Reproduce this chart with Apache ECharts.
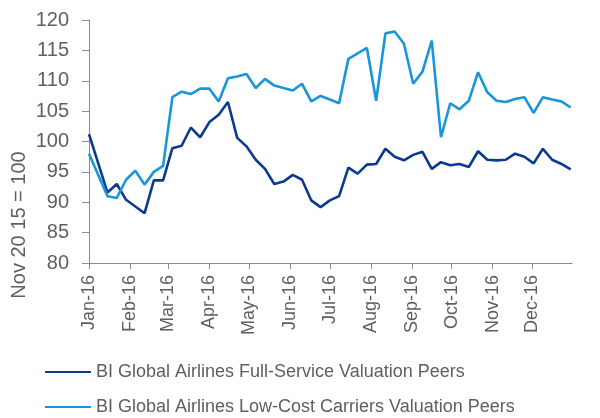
<!DOCTYPE html>
<html>
<head>
<meta charset="utf-8">
<script src="https://cdn.jsdelivr.net/npm/echarts@6/dist/echarts.min.js"></script>
<style>
  html, body { margin: 0; padding: 0; background: #fff; }
  #chart { width: 600px; height: 418px; }
</style>
</head>
<body>
<div id="chart"></div>
<script>
// weekly observations, 2016
var weeks = [
  '2016-01-01', '2016-01-08', '2016-01-15', '2016-01-22', '2016-01-29',
  '2016-02-05', '2016-02-12', '2016-02-19', '2016-02-26',
  '2016-03-04', '2016-03-11', '2016-03-18', '2016-03-25',
  '2016-04-01', '2016-04-08', '2016-04-15', '2016-04-22', '2016-04-29',
  '2016-05-06', '2016-05-13', '2016-05-20', '2016-05-27',
  '2016-06-03', '2016-06-10', '2016-06-17', '2016-06-24',
  '2016-07-01', '2016-07-08', '2016-07-15', '2016-07-22', '2016-07-29',
  '2016-08-05', '2016-08-12', '2016-08-19', '2016-08-26',
  '2016-09-02', '2016-09-09', '2016-09-16', '2016-09-23', '2016-09-30',
  '2016-10-07', '2016-10-14', '2016-10-21', '2016-10-28',
  '2016-11-04', '2016-11-11', '2016-11-18', '2016-11-25',
  '2016-12-02', '2016-12-09', '2016-12-16', '2016-12-23', '2016-12-30'
];

var fullService = [
  101.2, 96.4, 91.6, 93.0, 90.4,
  89.3, 88.2, 93.6, 93.6,
  98.9, 99.3, 102.3, 100.7,
  103.2, 104.4, 106.5, 100.6, 99.2,
  97.0, 95.5, 93.0, 93.4,
  94.5, 93.7, 90.3, 89.2,
  90.3, 91.0, 95.7, 94.7, 96.2,
  96.3, 98.8, 97.5, 96.9,
  97.8, 98.3, 95.5, 96.6, 96.1,
  96.3, 95.8, 98.4, 97.0,
  96.9, 97.0, 98.0, 97.5,
  96.4, 98.8, 97.0, 96.3, 95.4
];

var lowCost = [
  98.0, 94.5, 91.0, 90.7, 93.7,
  95.2, 92.9, 95.0, 96.0,
  107.3, 108.2, 107.8, 108.7,
  108.7, 106.6, 110.4, 110.7, 111.1,
  108.8, 110.3, 109.2, 108.8,
  108.4, 109.5, 106.6, 107.5,
  106.9, 106.3, 113.6, 114.5, 115.4,
  106.7, 117.8, 118.1, 116.1,
  109.5, 111.5, 116.6, 100.7, 106.3,
  105.3, 106.7, 111.4, 108.1,
  106.7, 106.5, 107.0, 107.3,
  104.7, 107.3, 106.9, 106.6, 105.6
];

var monthStarts = [
  '2016-01-01', '2016-02-01', '2016-03-01', '2016-04-01', '2016-05-01', '2016-06-01',
  '2016-07-01', '2016-08-01', '2016-09-01', '2016-10-01', '2016-11-01', '2016-12-01'
];
var monthLabels = ['Jan-16', 'Feb-16', 'Mar-16', 'Apr-16', 'May-16', 'Jun-16',
  'Jul-16', 'Aug-16', 'Sep-16', 'Oct-16', 'Nov-16', 'Dec-16'];

var seriesNames = [
  'BI Global Airlines Full-Service Valuation Peers',
  'BI Global Airlines Low-Cost Carriers Valuation Peers'
];

var FONT = "'Liberation Sans', Arial, sans-serif";
var TEXT = '#5f5f5f';
var AXIS = '#8c8c8c';

var T0 = Date.parse('2016-01-01');
function dayOf(s) { return Math.round((Date.parse(s) - T0) / 86400000); }

var tickDays = monthStarts.map(dayOf);
var labelByDay = {};
tickDays.forEach(function (d, i) { labelByDay[d] = monthLabels[i]; });

function pairs(vals) {
  return weeks.map(function (d, i) { return [dayOf(d), vals[i]]; });
}

function legendRow(name, top) {
  return {
    orient: 'vertical',
    left: 45,
    top: top,
    padding: 0,
    itemWidth: 46,
    itemHeight: 14,
    icon: 'path://M0,6 L46,6 L46,8 L0,8 Z',
    textStyle: { fontSize: 18, color: TEXT, fontFamily: FONT },
    data: [name]
  };
}

var chart = echarts.init(document.getElementById('chart'), null, { renderer: 'canvas' });

var option = {
  animation: false,
  backgroundColor: '#fff',
  textStyle: { fontFamily: FONT },
  grid: { left: 89, right: 28, top: 20, bottom: 155, containLabel: false },
  xAxis: {
    type: 'value',
    min: 0,
    max: dayOf('2016-12-31'),
    axisLine: { show: true, lineStyle: { color: AXIS, width: 1 } },
    axisTick: { show: true, length: 6, lineStyle: { color: AXIS }, customValues: tickDays },
    splitLine: { show: false },
    axisLabel: {
      customValues: tickDays,
      rotate: 90,
      margin: 12,
      fontSize: 18,
      color: TEXT,
      fontFamily: FONT,
      formatter: function (v) { return labelByDay[v] || ''; }
    }
  },
  yAxis: {
    type: 'value',
    min: 80,
    max: 120,
    interval: 5,
    axisLine: { show: true, lineStyle: { color: AXIS, width: 1 } },
    axisTick: { show: true, length: 7, lineStyle: { color: AXIS } },
    splitLine: { show: false },
    axisLabel: { margin: 20, fontSize: 20, color: TEXT, fontFamily: FONT }
  },
  legend: [
    legendRow(seriesNames[0], 363),
    legendRow(seriesNames[1], 398)
  ],
  graphic: [{
    type: 'text',
    x: 19,
    y: 225,
    rotation: Math.PI / 2,
    style: {
      text: 'Nov 20 15 = 100',
      fontSize: 20,
      fontFamily: FONT,
      fill: TEXT,
      align: 'center',
      verticalAlign: 'middle'
    }
  }],
  series: [
    {
      name: seriesNames[0],
      type: 'line',
      data: pairs(fullService),
      symbol: 'none',
      lineStyle: { color: '#0b3a8e', width: 2.6 },
      itemStyle: { color: '#0b3a8e' }
    },
    {
      name: seriesNames[1],
      type: 'line',
      data: pairs(lowCost),
      symbol: 'none',
      lineStyle: { color: '#1996d9', width: 2.6 },
      itemStyle: { color: '#1996d9' }
    }
  ]
};

chart.setOption(option);
</script>
</body>
</html>
